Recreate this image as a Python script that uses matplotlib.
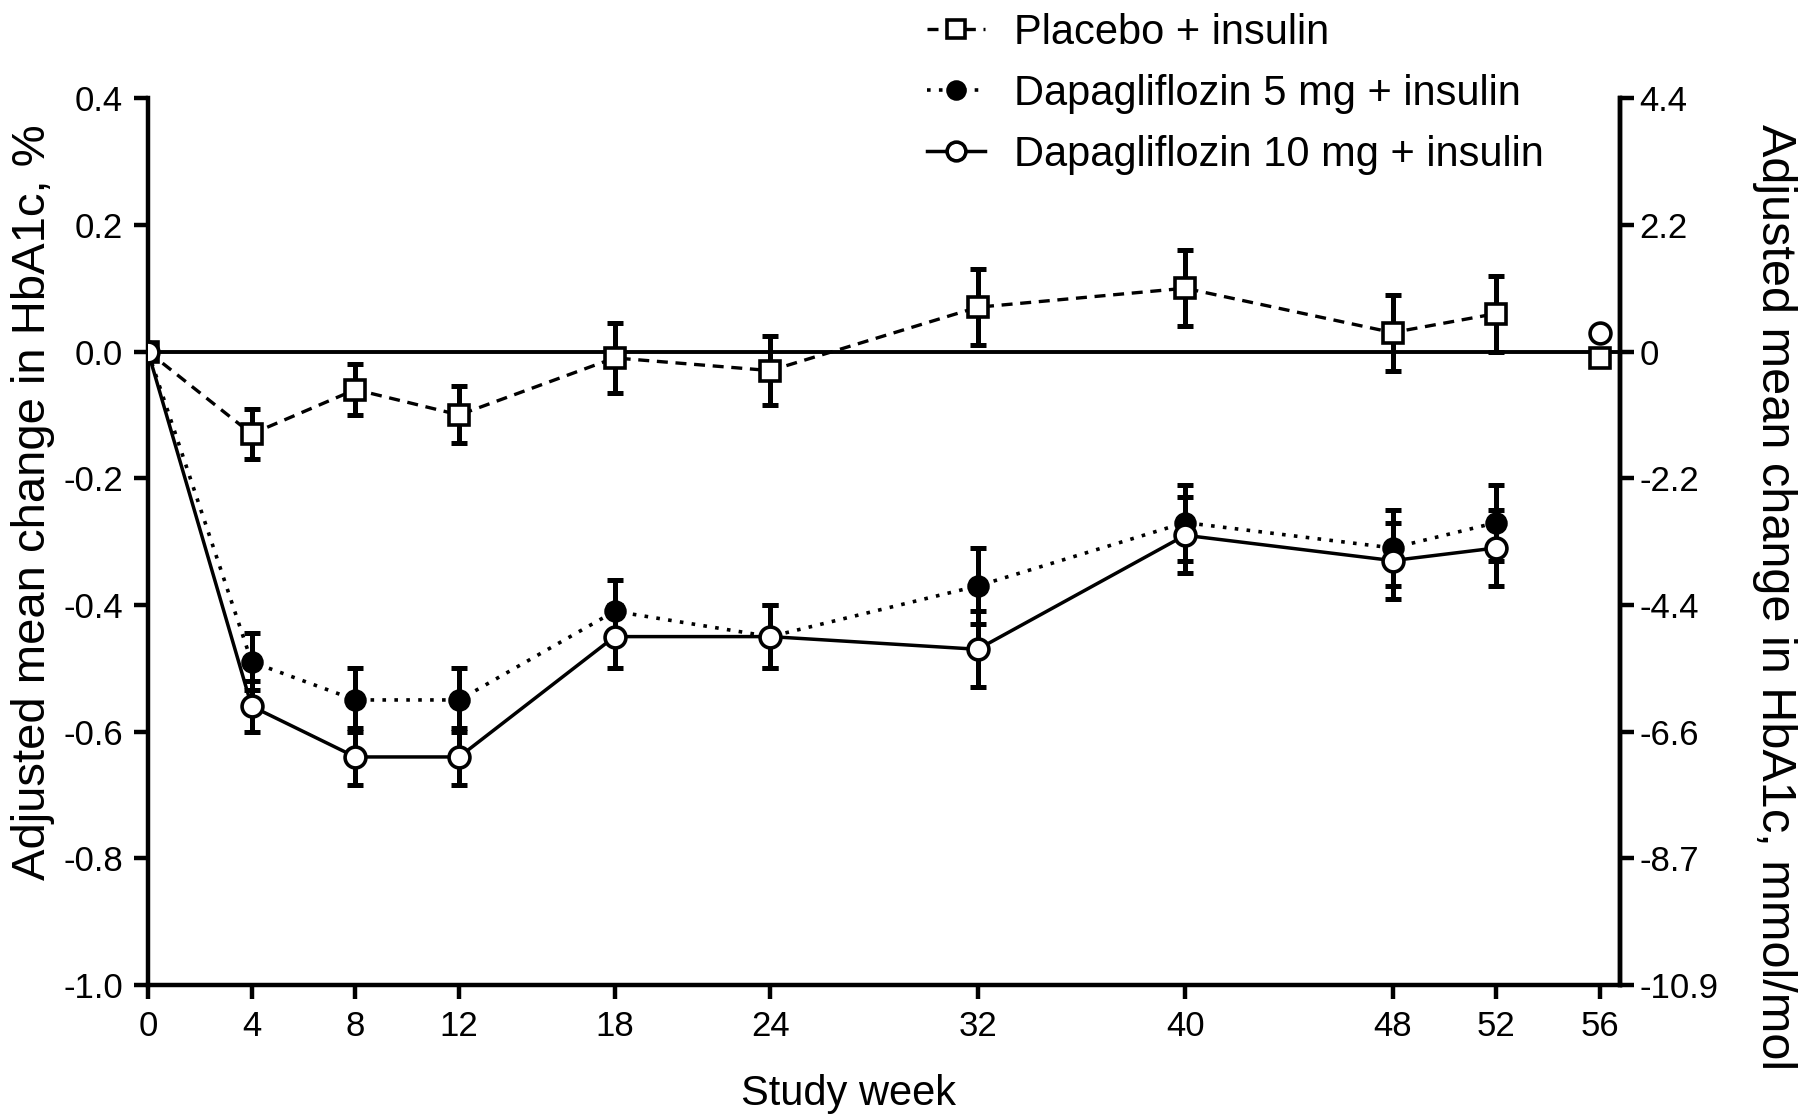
import matplotlib.pyplot as plt
import numpy as np

plt.rcParams["font.family"] = ["Liberation Sans", "DejaVu Sans"]

weeks = [0, 4, 8, 12, 18, 24, 32, 40, 48, 52]

placebo = [0.0, -0.13, -0.06, -0.10, -0.01, -0.03, 0.07, 0.10, 0.03, 0.06]
placebo_err = [0.0, 0.04, 0.04, 0.045, 0.055, 0.055, 0.06, 0.06, 0.06, 0.06]

dapa5 = [0.0, -0.49, -0.55, -0.55, -0.41, -0.45, -0.37, -0.27, -0.31, -0.27]
dapa5_err = [0.0, 0.045, 0.05, 0.05, 0.05, 0.05, 0.06, 0.06, 0.06, 0.06]

dapa10 = [0.0, -0.56, -0.64, -0.64, -0.45, -0.45, -0.47, -0.29, -0.33, -0.31]
dapa10_err = [0.0, 0.04, 0.045, 0.045, 0.05, 0.05, 0.06, 0.06, 0.06, 0.06]

# lone markers at week 56 (no error bars)
wk56 = 56
placebo_56 = -0.01
dapa10_56 = 0.03

xticks = [0, 4, 8, 12, 18, 24, 32, 40, 48, 52, 56]
yticks = [0.4, 0.2, 0.0, -0.2, -0.4, -0.6, -0.8, -1.0]
ytick_labels = ["0.4", "0.2", "0.0", "-0.2", "-0.4", "-0.6", "-0.8", "-1.0"]
mmol_labels = ["4.4", "2.2", "0", "-2.2", "-4.4", "-6.6", "-8.7", "-10.9"]

fig = plt.figure(figsize=(18.11, 11.16), dpi=100)
ax = fig.add_axes([0.0817, 0.1174, 0.8128, 0.7946])

ax.axhline(0, color="black", lw=2.8, zorder=1)

err_kw = dict(fmt="none", ecolor="black", elinewidth=3.6, capsize=6,
              capthick=3.6, zorder=2)
ax.errorbar(weeks[1:], placebo[1:], yerr=placebo_err[1:], **err_kw)
ax.errorbar(weeks[1:], dapa5[1:], yerr=dapa5_err[1:], **err_kw)
ax.errorbar(weeks[1:], dapa10[1:], yerr=dapa10_err[1:], **err_kw)

h_pl, = ax.plot(weeks, placebo, color="black", lw=2.4,
                linestyle=(0, (3.3, 2.3)), marker="s", ms=15,
                mfc="white", mec="black", mew=2.6, zorder=4,
                label="Placebo + insulin")
h_d5, = ax.plot(weeks, dapa5, color="black", lw=2.6,
                linestyle=(0, (1, 2.3)), marker="o", ms=14,
                mfc="black", mec="black", mew=2.2, zorder=3,
                label="Dapagliflozin 5 mg + insulin")
h_d10, = ax.plot(weeks, dapa10, color="black", lw=2.5, linestyle="-",
                 marker="o", ms=15, mfc="white", mec="black", mew=2.6,
                 zorder=5, label="Dapagliflozin 10 mg + insulin")

ax.plot([wk56], [placebo_56], linestyle="none", marker="s", ms=15,
        mfc="white", mec="black", mew=2.6, zorder=4)
ax.plot([wk56], [dapa10_56], linestyle="none", marker="o", ms=15,
        mfc="white", mec="black", mew=2.6, zorder=5)

ax.set_xlim(0, 56.77)
ax.set_ylim(-1.0, 0.4)
ax.set_xticks(xticks)
ax.set_xticklabels([str(w) for w in xticks])
ax.set_yticks(yticks)
ax.set_yticklabels(ytick_labels)

for side in ("left", "bottom", "right"):
    ax.spines[side].set_linewidth(3.2)
ax.spines["top"].set_visible(False)
ax.tick_params(axis="both", which="major", labelsize=25, width=3.2,
               length=10, direction="out", pad=8)

ax.set_xlabel("Study week", fontsize=30)
ax.xaxis.set_label_coords(0.476, -0.1)
ax.set_ylabel("Adjusted mean change in HbA1c, %", fontsize=34)
ax.yaxis.set_label_coords(-0.063, 0.545)

ax2 = ax.twinx()
ax2.set_ylim(ax.get_ylim())
ax2.set_yticks(yticks)
ax2.set_yticklabels(mmol_labels)
ax2.spines["right"].set_linewidth(3.2)
ax2.spines["top"].set_visible(False)
ax2.spines["left"].set_visible(False)
ax2.spines["bottom"].set_visible(False)
ax2.tick_params(axis="y", labelsize=25, width=3.2, length=10,
                direction="out", pad=4)
ax2.set_ylabel("Adjusted mean change in HbA1c, mmol/mol", fontsize=35,
               rotation=270)
ax2.yaxis.set_label_coords(1.12, 0.437)

fig.legend(handles=[h_pl, h_d5, h_d10], loc="upper left",
           bbox_to_anchor=(0.491, 1.022), frameon=False, fontsize=30,
           handlelength=1.4, handletextpad=0.7, labelspacing=0.5,
           markerscale=0.9)

fig.savefig("out.png", dpi=100)
